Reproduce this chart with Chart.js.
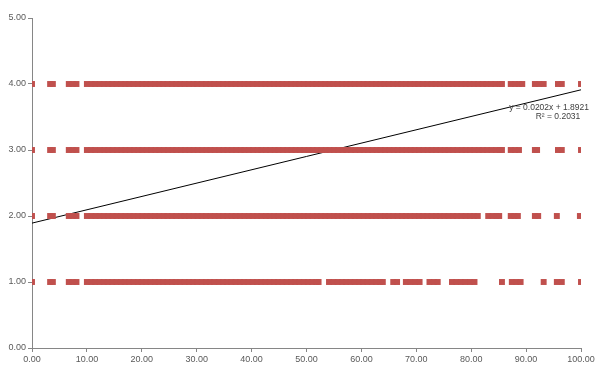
<!DOCTYPE html>
<html>
<head>
<meta charset="utf-8">
<script src="https://cdn.jsdelivr.net/npm/chart.js@4"></script>
<style>
  html, body { margin: 0; padding: 0; background: #fff; }
  #wrap { width: 599px; height: 365px; }
</style>
</head>
<body>
<div id="wrap"><canvas id="c" width="599" height="365"></canvas></div>
<script>
// x values of the points on each level
const level4X = [0, 3.3, 3.8, 6.7, 7.4, 8.1,
  10.0, 10.8, 11.5, 12.3, 13.1, 13.9, 14.6, 15.4, 16.2, 17.0, 17.7, 18.5, 19.3, 20.1,
  20.8, 21.6, 22.4, 23.2, 23.9, 24.7, 25.5, 26.3, 27.0, 27.8, 28.6, 29.4, 30.1, 30.9,
  31.7, 32.5, 33.2, 34.0, 34.8, 35.6, 36.3, 37.1, 37.9, 38.7, 39.4, 40.2, 41.0, 41.8,
  42.5, 43.3, 44.1, 44.9, 45.6, 46.4, 47.2, 48.0, 48.7, 49.5, 50.3, 51.1, 51.8, 52.6,
  53.4, 54.2, 54.9, 55.7, 56.5, 57.3, 58.0, 58.8, 59.6, 60.4, 61.1, 61.9, 62.7, 63.5,
  64.2, 65.0, 65.8, 66.6, 67.3, 68.1, 68.9, 69.7, 70.4, 71.2, 72.0, 72.8, 73.5, 74.3,
  75.1, 75.9, 76.6, 77.4, 78.2, 79.0, 79.7, 80.5, 81.3, 82.1, 82.8, 83.6, 84.4, 85.2, 85.6,
  87.2, 88.0, 88.7, 89.3, 91.6, 92.4, 93.2, 95.8, 96.5, 100];

const level3X = [0, 3.3, 3.8, 6.7, 7.4, 8.1,
  10.0, 10.7, 11.5, 12.4, 13.2, 13.9, 14.7, 15.5, 16.3, 17.0, 17.8, 18.6, 19.4, 20.1,
  20.9, 21.7, 22.5, 23.2, 24.0, 24.8, 25.6, 26.3, 27.1, 27.9, 28.7, 29.4, 30.2, 31.0,
  31.8, 32.5, 33.3, 34.1, 34.9, 35.6, 36.4, 37.2, 38.0, 38.7, 39.5, 40.3, 41.1, 41.8,
  42.6, 43.4, 44.2, 44.9, 45.7, 46.5, 47.3, 48.0, 48.8, 49.6, 50.4, 51.1, 51.9, 52.7,
  53.5, 54.2, 55.0, 55.8, 56.6, 57.3, 58.1, 58.9, 59.7, 60.4, 61.2, 62.0, 62.8, 63.5,
  64.3, 65.1, 65.9, 66.6, 67.4, 68.2, 69.0, 69.7, 70.5, 71.3, 72.1, 72.8, 73.6, 74.4,
  75.2, 75.9, 76.7, 77.5, 78.3, 79.0, 79.8, 80.6, 81.4, 82.1, 82.9, 83.7, 84.5, 85.2, 85.6,
  87.2, 88.0, 88.7, 91.6, 92.0, 95.8, 96.5, 100];

const level2X = [0, 3.3, 3.8, 6.7, 7.4, 8.1,
  10.0, 10.8, 11.6, 12.3, 13.1, 13.9, 14.7, 15.4, 16.2, 17.0, 17.8, 18.5, 19.3, 20.1,
  20.9, 21.6, 22.4, 23.2, 24.0, 24.7, 25.5, 26.3, 27.1, 27.8, 28.6, 29.4, 30.2, 30.9,
  31.7, 32.5, 33.3, 34.0, 34.8, 35.6, 36.4, 37.1, 37.9, 38.7, 39.5, 40.2, 41.0, 41.8,
  42.6, 43.3, 44.1, 44.9, 45.7, 46.4, 47.2, 48.0, 48.8, 49.5, 50.3, 51.1, 51.9, 52.6,
  53.4, 54.2, 55.0, 55.7, 56.5, 57.3, 58.1, 58.8, 59.6, 60.4, 61.2, 61.9, 62.7, 63.5,
  64.3, 65.0, 65.8, 66.6, 67.4, 68.1, 68.9, 69.7, 70.5, 71.2, 72.0, 72.8, 73.6, 74.3,
  75.1, 75.9, 76.7, 77.4, 78.2, 79.0, 79.8, 80.5, 81.2,
  83.1, 83.9, 84.6, 85.1, 87.2, 87.9, 88.5, 91.6, 92.2, 95.6, 99.8];

const level1X = [0, 3.3, 3.8, 6.7, 7.4, 8.1,
  10.0, 10.8, 11.5, 12.3, 13.1, 13.8, 14.6, 15.4, 16.2, 16.9, 17.7, 18.5, 19.3, 20.0,
  20.8, 21.6, 22.4, 23.1, 23.9, 24.7, 25.5, 26.2, 27.0, 27.8, 28.6, 29.3, 30.1, 30.9,
  31.7, 32.4, 33.2, 34.0, 34.8, 35.5, 36.3, 37.1, 37.9, 38.6, 39.4, 40.2, 41.0, 41.7,
  42.5, 43.3, 44.1, 44.8, 45.6, 46.4, 47.2, 47.9, 48.7, 49.5, 50.3, 51.0, 51.8, 52.2,
  54.1, 54.9, 55.7, 56.5, 57.2, 58.0, 58.8, 59.6, 60.3, 61.1, 61.9, 62.7, 63.4, 63.9,
  65.8, 66.5, 68.1, 68.9, 69.8, 70.6, 72.4, 73.2, 73.9,
  76.5, 77.3, 78.1, 78.9, 79.8, 80.6, 85.6, 87.4, 88.2, 89.0, 93.2, 95.6, 96.5, 100];

const levels = [4, 3, 2, 1];
const levelX = [level4X, level3X, level2X, level1X];

// linear trendline shown on the chart
const slope = 0.0202;
const intercept = 1.8921;
const rSquared = 0.2031;
const trendX = [0, 100];

const xTicks = [0, 10, 20, 30, 40, 50, 60, 70, 80, 90, 100];
const yTicks = [0, 1, 2, 3, 4, 5];

const points = [];
levels.forEach((lv, i) => {
  levelX[i].forEach(x => points.push({ x: x, y: lv }));
});

const trend = trendX.map(x => ({ x: x, y: intercept + slope * x }));

const axisGray = '#868686';
const labelGray = '#595959';
const font = { family: 'Liberation Sans, Arial, sans-serif', size: 9 };

const trendLabel = {
  id: 'trendLabel',
  afterDatasetsDraw(chart) {
    const { ctx, scales } = chart;
    const x = scales.x.getPixelForValue(100) + 8;
    const y = scales.y.getPixelForValue(intercept + slope * 100);
    ctx.save();
    ctx.fillStyle = '#404040';
    ctx.font = '8.5px "Liberation Sans", Arial, sans-serif';
    ctx.textAlign = 'right';
    ctx.textBaseline = 'middle';
    ctx.fillText('y = ' + slope.toFixed(4) + 'x + ' + intercept.toFixed(4), x, y + 18);
    ctx.textAlign = 'center';
    ctx.fillText('R² = ' + rSquared.toFixed(4), x - 31, y + 27);
    ctx.restore();
  }
};

new Chart(document.getElementById('c'), {
  type: 'scatter',
  data: {
    datasets: [
      {
        data: points,
        pointStyle: 'rect',
        pointRadius: 4.2,
        pointHoverRadius: 4.2,
        pointBorderWidth: 0,
        pointBackgroundColor: '#C0504D',
        pointBorderColor: '#C0504D',
        backgroundColor: '#C0504D',
        borderColor: '#C0504D'
      },
      {
        type: 'line',
        data: trend,
        borderColor: '#000',
        borderWidth: 1,
        pointRadius: 0,
        fill: false
      }
    ]
  },
  options: {
    responsive: false,
    animation: false,
    events: [],
    layout: { padding: { left: 0, right: 18, top: 18, bottom: 0 } },
    plugins: { legend: { display: false }, tooltip: { enabled: false } },
    scales: {
      x: {
        type: 'linear',
        min: 0,
        max: 100,
        afterBuildTicks: s => { s.ticks = xTicks.map(v => ({ value: v })); },
        afterFit: s => { s.height = 17; },
        border: { color: axisGray, width: 1 },
        grid: { drawOnChartArea: false, drawTicks: true, tickLength: 4, color: axisGray },
        ticks: { color: labelGray, font: font, padding: 2, maxRotation: 0, callback: v => v.toFixed(2) }
      },
      y: {
        type: 'linear',
        min: 0,
        max: 5,
        afterBuildTicks: s => { s.ticks = yTicks.map(v => ({ value: v })); },
        afterFit: s => { s.width = 32; },
        border: { color: axisGray, width: 1 },
        grid: { drawOnChartArea: false, drawTicks: true, tickLength: 4, color: axisGray },
        ticks: { color: labelGray, font: font, padding: 2, callback: v => v.toFixed(2) }
      }
    }
  },
  plugins: [trendLabel]
});
</script>
</body>
</html>
